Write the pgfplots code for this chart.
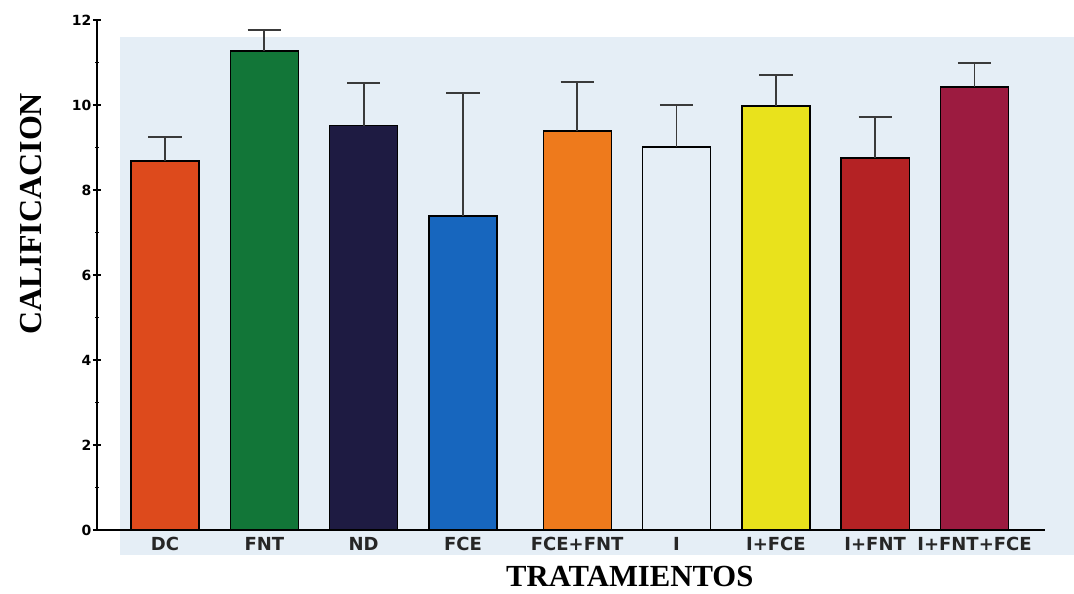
\documentclass[border=0pt]{standalone}
\usepackage{fontspec}
\setmainfont{Liberation Serif}
\newfontfamily\dejasans{DejaVu Sans}
\usepackage{pgfplots}
\pgfplotsset{compat=1.18}
\definecolor{bgpanel}{HTML}{E5EEF6}
\definecolor{cDC}{HTML}{DD4A1C}
\definecolor{cFNT}{HTML}{127638}
\definecolor{cND}{HTML}{1E1B42}
\definecolor{cFCE}{HTML}{1766BE}
\definecolor{cFCEFNT}{HTML}{EE7A1C}
\definecolor{cIFCE}{HTML}{E9E21C}
\definecolor{cIFNT}{HTML}{B42224}
\definecolor{cIFNTFCE}{HTML}{9C1B40}
\definecolor{errc}{HTML}{3A3A3A}
\begin{document}
\begin{tikzpicture}
\begin{axis}[
  set layers,
  clip=false,
  scale only axis,
  width=711pt, height=382.5pt,
  xmin=-0.685, xmax=8.86,
  ymin=0, ymax=12,
  axis x line=bottom, axis y line=left,
  x axis line style={-, line width=1.3pt, black},
  y axis line style={-, line width=2pt, black},
  ytick={0,2,...,12},
  minor y tick num=1,
  ytick style={line width=1.3pt, black},
  major tick length=6pt,
  minor tick length=2.5pt,
  yticklabel style={font=\dejasans\bfseries\fontsize{10.5}{12}\selectfont, inner sep=1pt},
  /pgf/number format/assume math mode=true,
  xtick={0,1,2,3,4.15,5.15,6.15,7.15,8.15},
  xticklabels={DC,FNT,ND,FCE,FCE+FNT,I,I+FCE,I+FNT,I+FNT+FCE},
  xtick style={draw=none},
  xticklabel style={font=\dejasans\bfseries\fontsize{13.5}{15}\selectfont, text=black!85, yshift=-1pt, inner sep=1pt},
  ylabel={\bfseries CALIFICACION},
  ylabel style={font=\fontsize{24}{26}\selectfont, at={(rel axis cs:-0.07,0.62)}, anchor=center},
  xlabel={\bfseries TRATAMIENTOS},
  xlabel style={font=\fontsize{23}{25}\selectfont, at={(rel axis cs:0.562,-0.092)}, anchor=center, inner sep=0pt},
  every axis plot/.append style={
    ybar, bar shift=0pt, bar width=0.685, draw=black, line width=1pt,
    error bars/y dir=plus, error bars/y explicit,
    error bars/error bar style={errc, line width=1.4pt},
    error bars/error mark options={rotate=90, errc, line width=1.4pt, mark size=12.5pt}
  },
]
\begin{pgfonlayer}{axis background}
  \fill[bgpanel] (axis cs:-0.453,-0.59) rectangle (axis cs:9.2,11.6);
\end{pgfonlayer}
\addplot[fill=cDC] coordinates {(0,8.68) +- (0,0.57)};
\addplot[fill=cFNT] coordinates {(1,11.27) +- (0,0.49)};
\addplot[fill=cND] coordinates {(2,9.51) +- (0,1.01)};
\addplot[fill=cFCE] coordinates {(3,7.39) +- (0,2.89)};
\addplot[fill=cFCEFNT] coordinates {(4.15,9.39) +- (0,1.15)};
\addplot[fill=bgpanel] coordinates {(5.15,9.01) +- (0,0.99)};
\addplot[fill=cIFCE] coordinates {(6.15,9.98) +- (0,0.73)};
\addplot[fill=cIFNT] coordinates {(7.15,8.75) +- (0,0.97)};
\addplot[fill=cIFNTFCE] coordinates {(8.15,10.42) +- (0,0.57)};
\end{axis}
\pgfresetboundingbox
\path[use as bounding box] (-72.75pt,-47.25pt) rectangle (732.75pt,397.5pt);
\end{tikzpicture}
\end{document}
